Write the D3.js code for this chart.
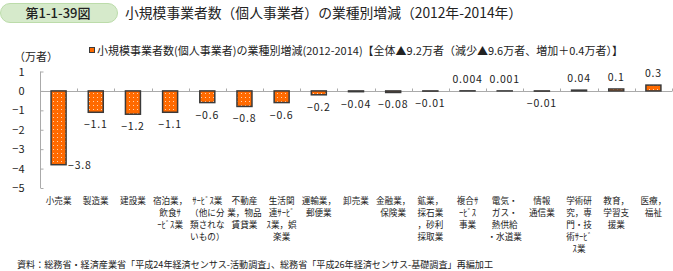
<!DOCTYPE html>
<html>
<head>
<meta charset="utf-8">
<title>第1-1-39図</title>
<script src="https://d3js.org/d3.v7.min.js"></script>
<style>
  body { margin: 0; background: #fff; }
  svg text { font-family: "Noto Sans CJK JP", "Noto Sans", sans-serif; fill: #222; }
  .tick-label { font-size: 11px; }
  .val { font-size: 10.5px; letter-spacing: 0.8px; }
  .cat { font-size: 8.6px; }
</style>
</head>
<body>
<div id="chart"></div>
<script>
// categories (line breaks as in the figure)
var categories = [
  ["小売業"], ["製造業"], ["建設業"],
  ["宿泊業，", "飲食ｻ", "ｰﾋﾞｽ業"],
  ["ｻｰﾋﾞｽ業", "（他に分", "類されな", "いもの）"],
  ["不動産", "業，物品", "賃貸業"],
  ["生活関", "連ｻｰﾋﾞ", "ｽ業，娯", "楽業"],
  ["運輸業，", "郵便業"],
  ["卸売業"],
  ["金融業，", "保険業"],
  ["鉱業，", "採石業", "，砂利", "採取業"],
  ["複合ｻ", "ｰﾋﾞｽ", "事業"],
  ["電気・", "ガス・", "熱供給", "・水道業"],
  ["情報", "通信業"],
  ["学術研", "究，専", "門・技", "術ｻｰﾋﾞ", "ｽ業"],
  ["教育，", "学習支", "援業"],
  ["医療，", "福祉"]
];
var values = [-3.8, -1.1, -1.2, -1.1, -0.6, -0.8, -0.6, -0.2, -0.04, -0.08, -0.01, 0.004, 0.001, -0.01, 0.04, 0.1, 0.3];
var yTicks = [1, 0, -1, -2, -3, -4, -5];

var figNo = "第1-1-39図";
var title = "小規模事業者数（個人事業者）の業種別増減（2012年-2014年）";
var legendText = "小規模事業者数(個人事業者)の業種別増減(2012-2014)【全体▲9.2万者（減少▲9.6万者、増加＋0.4万者）】";
var unitText = "（万者）";
var sourceText = "資料：総務省・経済産業省「平成24年経済センサス-活動調査」、総務省「平成26年経済センサス-基礎調査」再編加工";

var W = 673, H = 271;
var svg = d3.select("#chart").append("svg")
    .attr("width", W)
    .attr("height", H);

// dotted orange fill
var defs = svg.append("defs");
var pat = defs.append("pattern")
    .attr("id", "dots")
    .attr("patternUnits", "userSpaceOnUse")
    .attr("width", 4)
    .attr("height", 4);
pat.append("rect").attr("width", 4).attr("height", 4).attr("fill", "#ff6a00");
pat.append("rect").attr("x", 1).attr("y", 1).attr("width", 1).attr("height", 1).attr("fill", "#ffd2b0");

// header
svg.append("rect")
    .attr("x", 0.5).attr("y", 3.5)
    .attr("width", 117).attr("height", 19)
    .attr("rx", 9.5)
    .attr("fill", "#d6eacb")
    .attr("stroke", "#bcdcaa");
svg.append("text")
    .attr("x", 58).attr("y", 18)
    .attr("text-anchor", "middle")
    .style("font-size", "13px")
    .style("font-weight", "500")
    .text(figNo);
svg.append("text")
    .attr("x", 125).attr("y", 18)
    .style("font-size", "13.8px")
    .text(title);

// scales
var x = d3.scaleBand()
    .domain(d3.range(values.length))
    .range([40, 672]);

var y = d3.scaleLinear()
    .domain([-5, 1])
    .range([188, 71.5]);

var barW = 15;

// y axis
var yAxis = d3.axisLeft(y).tickValues(yTicks).tickSize(-3).tickPadding(16).tickFormat(d3.format("d"));
var gy = svg.append("g")
    .attr("transform", "translate(40.5,0)")
    .call(yAxis);
gy.select(".domain").attr("stroke", "#aaa").attr("d", "M0," + y(1) + "V" + y(-5));
gy.selectAll(".tick line").attr("stroke", "#aaa");
gy.selectAll(".tick text").attr("class", "tick-label").style("font-family", "'Noto Sans CJK JP', sans-serif").attr("fill", "#222");

svg.append("text")
    .attr("x", 14).attr("y", 61)
    .style("font-size", "11px")
    .text(unitText);

// zero line with category ticks
var y0 = Math.round(y(0)) + 0.5;
svg.append("line")
    .attr("x1", 40).attr("x2", 672)
    .attr("y1", y0).attr("y2", y0)
    .attr("stroke", "#aaa");
svg.selectAll(".ctick")
    .data(d3.range(1, values.length + 1))
    .enter().append("line")
    .attr("x1", function(d) { return Math.round(x.step() * d + 40) + 0.5; })
    .attr("x2", function(d) { return Math.round(x.step() * d + 40) + 0.5; })
    .attr("y1", y0 - 3).attr("y2", y0)
    .attr("stroke", "#aaa");

// bars
svg.selectAll(".bar")
    .data(values)
    .enter().append("rect")
    .attr("class", "bar")
    .attr("x", function(d, i) { return x(i) + x.bandwidth() / 2 - barW / 2; })
    .attr("y", function(d) { return Math.min(y(d), y(0)); })
    .attr("width", barW)
    .attr("height", function(d) { return Math.abs(y(d) - y(0)); })
    .attr("fill", "url(#dots)")
    .attr("stroke", "#3a3a3a")
    .attr("stroke-width", 1.5);

// value labels
function fmt(v) { return String(v).replace("-", "−"); }
svg.selectAll(".val")
    .data(values)
    .enter().append("text")
    .attr("class", "val")
    .attr("text-anchor", function(d, i) { return i === 0 ? "start" : "middle"; })
    .attr("x", function(d, i) {
      var cx = x(i) + x.bandwidth() / 2;
      return i === 0 ? cx + barW / 2 + 2 : cx;
    })
    .attr("y", function(d, i) {
      if (i === 0) return y(d) + 4;
      return d < 0 ? y(d) + 16 : y(d) - 8;
    })
    .text(fmt);

// category labels
var cat = svg.selectAll(".cat")
    .data(categories)
    .enter().append("text")
    .attr("class", "cat")
    .attr("text-anchor", "middle")
    .attr("x", function(d, i) { return x(i) + x.bandwidth() / 2; })
    .attr("y", 204);
cat.selectAll("tspan")
    .data(function(d, i) { return d.map(function(s) { return { s: s, i: i }; }); })
    .enter().append("tspan")
    .attr("x", function(d) { return x(d.i) + x.bandwidth() / 2; })
    .attr("dy", function(d, j) { return j === 0 ? 0 : 12; })
    .text(function(d) { return d.s; });

// legend
svg.append("rect")
    .attr("x", 89.5).attr("y", 47.5)
    .attr("width", 5).attr("height", 5)
    .attr("fill", "#ff6a00")
    .attr("stroke", "#3a3a3a");
svg.append("text")
    .attr("x", 97).attr("y", 54.5)
    .attr("textLength", 526)
    .attr("lengthAdjust", "spacingAndGlyphs")
    .style("font-size", "11px")
    .text(legendText);

// source
svg.append("text")
    .attr("x", 17).attr("y", 268)
    .attr("textLength", 476)
    .attr("lengthAdjust", "spacingAndGlyphs")
    .style("font-size", "9.5px")
    .text(sourceText);
</script>
</body>
</html>
